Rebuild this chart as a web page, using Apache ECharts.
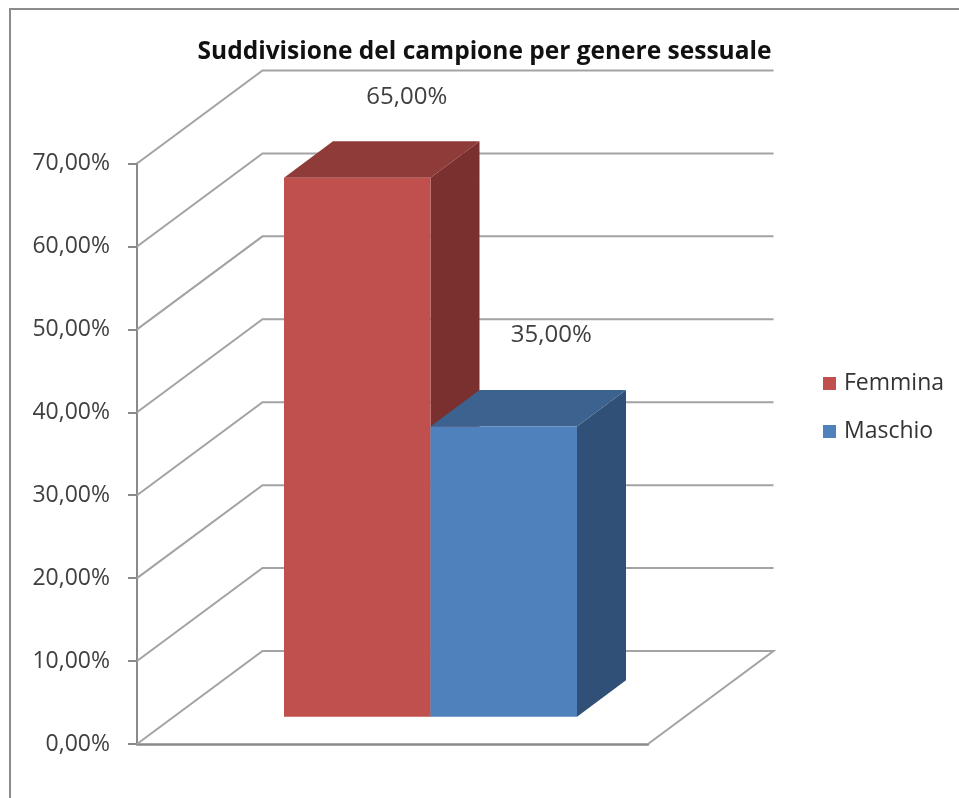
<!DOCTYPE html>
<html>
<head>
<meta charset="utf-8">
<style>
html, body { margin: 0; padding: 0; background: #fff; }
#grafico { width: 959px; height: 798px; }
</style>
<script src="https://cdn.jsdelivr.net/npm/echarts@6/dist/echarts.min.js"></script>
</head>
<body>
<div id="grafico"></div>
<script>
var titolo = 'Suddivisione del campione per genere sessuale';
var categorie = ['Campione'];
var femmina = [65];
var maschio = [35];
var tacche = [0, 10, 20, 30, 40, 50, 60, 70];

var font = '"Open Sans", sans-serif';
// prospettiva della parete di fondo e della barra, in pixel
var fondoX = 125.5, fondoY = 93;
var barraX = 38, barraY = 27.2;
var spessoreX = 49, spessoreY = 36.5;
var larghezza = 146.5;

function percento(v) {
    return v.toFixed(2).replace('.', ',') + '%';
}

function pareti(params, api) {
    var v = api.value(0);
    var p = api.coord([0, v]);
    var sx = params.coordSys.x;
    var dx = sx + params.coordSys.width;
    var stile = { stroke: '#a3a3a3', lineWidth: 2, fill: 'none' };
    var punti = [[sx, p[1]], [sx + fondoX, p[1] - fondoY], [dx + fondoX, p[1] - fondoY]];
    if (v === 0) punti.push([dx, p[1]]);
    return { type: 'polyline', shape: { points: punti }, style: stile, silent: true };
}

function barra(lato, colori, spostaX, spostaY) {
    return function (params, api) {
        var alto = api.coord([0, api.value(1)]);
        var basso = api.coord([0, 0]);
        var x0 = alto[0] + barraX + (lato < 0 ? -larghezza : 0);
        var x1 = x0 + larghezza;
        var y0 = alto[1] - barraY;
        var y1 = basso[1] - barraY;
        return {
            type: 'group',
            children: [
                { type: 'polygon', shape: { points: [[x1, y0], [x1 + spessoreX, y0 - spessoreY], [x1 + spessoreX, y1 - spessoreY], [x1, y1]] }, style: { fill: colori[2] } },
                { type: 'polygon', shape: { points: [[x0, y0], [x0 + spessoreX, y0 - spessoreY], [x1 + spessoreX, y0 - spessoreY], [x1, y0]] }, style: { fill: colori[1] } },
                { type: 'rect', shape: { x: x0, y: y0, width: larghezza, height: y1 - y0 }, style: { fill: colori[0] } },
                {
                    type: 'text',
                    style: {
                        x: (x0 + x1) / 2 + spostaX, y: y0 - spostaY,
                        text: percento(api.value(1)),
                        font: '24px ' + font, fill: '#404040',
                        textAlign: 'center', textVerticalAlign: 'middle'
                    }
                }
            ]
        };
    };
}

var myChart = echarts.init(document.getElementById('grafico'));
var option = {
    backgroundColor: '#fff',
    animation: false,
    title: {
        text: titolo,
        left: 479.5,
        top: 35,
        textAlign: 'center',
        textStyle: { fontFamily: font, fontSize: 24.5, fontWeight: 'bold', color: '#111' }
    },
    legend: {
        data: ['Femmina', 'Maschio'],
        orient: 'vertical',
        left: 818,
        top: 367,
        icon: 'rect',
        itemWidth: 13,
        itemHeight: 13,
        itemGap: 25,
        textStyle: { fontFamily: font, fontSize: 23, color: '#333', padding: [0, 0, 0, 3] }
    },
    grid: { left: 137, right: 311, top: 163.5, bottom: 54 },
    xAxis: {
        type: 'category',
        data: categorie,
        axisLine: { lineStyle: { color: '#8a8a8a', width: 2.5 } },
        axisTick: { show: false },
        axisLabel: { show: false }
    },
    yAxis: {
        type: 'value',
        min: 0,
        max: 70,
        interval: 10,
        splitLine: { show: false },
        axisLine: { show: true, lineStyle: { color: '#8a8a8a', width: 2 } },
        axisTick: { show: true, length: 9, lineStyle: { color: '#8a8a8a', width: 2 } },
        axisLabel: { margin: 27, fontFamily: font, fontSize: 23, color: '#404040', verticalAlign: 'middle', padding: [8, 0, 0, 0], formatter: percento }
    },
    graphic: [{
        type: 'rect',
        shape: { x: 10, y: 9, width: 1200, height: 1200 },
        style: { fill: 'none', stroke: '#8c8c8c', lineWidth: 2 },
        silent: true,
        z: -1
    }],
    series: [
        {
            name: 'Pareti',
            type: 'custom',
            renderItem: pareti,
            clip: false,
            silent: true,
            encode: { y: 0 },
            data: tacche.map(function (t) { return [t]; })
        },
        {
            name: 'Femmina',
            type: 'custom',
            renderItem: barra(-1, ['#c0504d', '#8f3b39', '#7a302e'], 49.5, 81),
            clip: false,
            itemStyle: { color: '#c0504d' },
            encode: { x: 0, y: 1 },
            data: femmina.map(function (v, i) { return [i, v]; })
        },
        {
            name: 'Maschio',
            type: 'custom',
            renderItem: barra(1, ['#4f81bd', '#3c628f', '#305078'], 47.5, 91),
            clip: false,
            itemStyle: { color: '#4f81bd' },
            encode: { x: 0, y: 1 },
            data: maschio.map(function (v, i) { return [i, v]; })
        }
    ]
};
myChart.setOption(option);
</script>
</body>
</html>
